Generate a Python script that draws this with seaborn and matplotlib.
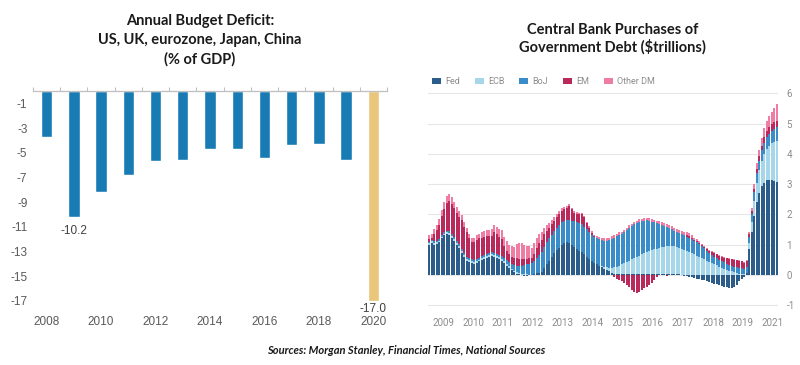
import matplotlib

matplotlib.use("Agg")
import matplotlib.pyplot as plt
import numpy as np
import pandas as pd
import seaborn as sns
from matplotlib.patches import Patch

# Left panel: annual budget deficit (% of GDP)
deficit_years = ["2008", "2009", "2010", "2011", "2012", "2013", "2014",
                 "2015", "2016", "2017", "2018", "2019", "2020"]
deficit_values = [-3.7, -10.2, -8.2, -6.8, -5.7, -5.6, -4.7,
                  -4.7, -5.4, -4.4, -4.3, -5.6, -17.0]
deficit_yticks = [-1, -3, -5, -7, -9, -11, -13, -15, -17]
labelled_years = ["2009", "2020"]

# Right panel: central bank purchases of government debt, monthly ($tn)
cb_year_labels = ["2009", "2010", "2011", "2012", "2013", "2014",
                  "2015", "2016", "2017", "2018", "2019", "2021"]
cb_yticks = [6, 5, 4, 3, 2, 1, 0, -1]
fed = [
    1.00, 1.05, 1.00, 1.02, 1.07, 1.20, 1.30, 1.34, 1.32, 1.22, 1.12, 1.00,
    0.88, 0.72, 0.58, 0.47, 0.42, 0.38, 0.37, 0.40, 0.44, 0.48, 0.53, 0.57,
    0.60, 0.62, 0.60, 0.57, 0.52, 0.46, 0.38, 0.30, 0.22, 0.15, 0.09, 0.04,
    0.01, -0.02, -0.03, -0.03, -0.02, 0.00, 0.02, 0.05, 0.06, 0.10, 0.22, 0.34,
    0.47, 0.60, 0.72, 0.82, 0.90, 0.97, 1.04, 1.07, 1.05, 1.00, 0.92, 0.85,
    0.80, 0.74, 0.68, 0.60, 0.52, 0.45, 0.40, 0.34, 0.29, 0.25, 0.20, 0.15,
    0.11, 0.07, 0.04, 0.02, 0.01, 0.01, 0.01, 0.01, 0.01, 0.01, 0.01, 0.01,
    0.01, 0.01, 0.01, 0.01, 0.01, 0.01, 0.01, 0.01, 0.01, 0.01, 0.01, 0.01,
    0.01, 0.01, 0.01, 0.01, 0.01, -0.01, -0.03, -0.05, -0.07, -0.09, -0.11, -0.13,
    -0.15, -0.17, -0.19, -0.21, -0.23, -0.26, -0.29, -0.31, -0.34, -0.36, -0.39, -0.41,
    -0.43, -0.45, -0.42, -0.33, -0.22, -0.13, -0.06, 0.05, 0.85, 1.40, 1.95, 2.40,
    2.70, 2.92, 3.05, 3.12, 3.14, 3.13, 3.10, 3.06,
]
ecb = [
    0.04, 0.05, 0.05, 0.05, 0.06, 0.06, 0.06, 0.06, 0.06, 0.06, 0.06, 0.06,
    0.06, 0.06, 0.06, 0.06, 0.06, 0.06, 0.06, 0.06, 0.06, 0.06, 0.06, 0.06,
    0.06, 0.06, 0.06, 0.06, 0.06, 0.06, 0.06, 0.06, 0.06, 0.05, 0.05, 0.04,
    0.04, 0.03, 0.02, 0.01, 0.00, 0.00, 0.00, 0.00, 0.00, 0.00, 0.00, 0.00,
    0.00, 0.00, 0.00, 0.00, 0.00, 0.00, 0.00, 0.00, 0.00, 0.00, 0.00, 0.00,
    0.00, 0.00, 0.00, 0.00, 0.00, 0.00, 0.00, 0.00, 0.00, 0.03, 0.06, 0.09,
    0.12, 0.16, 0.20, 0.24, 0.28, 0.33, 0.37, 0.41, 0.45, 0.50, 0.54, 0.58,
    0.62, 0.66, 0.70, 0.74, 0.77, 0.80, 0.83, 0.85, 0.88, 0.90, 0.92, 0.93,
    0.94, 0.95, 0.94, 0.92, 0.89, 0.86, 0.83, 0.79, 0.75, 0.71, 0.67, 0.63,
    0.59, 0.55, 0.51, 0.47, 0.43, 0.39, 0.35, 0.31, 0.27, 0.23, 0.20, 0.17,
    0.14, 0.11, 0.08, 0.06, 0.04, 0.02, 0.01, 0.02, 0.20, 0.35, 0.50, 0.65,
    0.75, 0.85, 0.95, 1.05, 1.13, 1.22, 1.30, 1.37,
]
boj = [
    0.05, 0.05, 0.05, 0.06, 0.06, 0.06, 0.06, 0.06, 0.06, 0.06, 0.07, 0.07,
    0.07, 0.07, 0.07, 0.07, 0.07, 0.07, 0.07, 0.07, 0.07, 0.07, 0.07, 0.07,
    0.07, 0.07, 0.07, 0.07, 0.08, 0.09, 0.10, 0.12, 0.14, 0.16, 0.18, 0.21,
    0.24, 0.27, 0.30, 0.33, 0.36, 0.39, 0.43, 0.50, 0.58, 0.66, 0.70, 0.74,
    0.73, 0.73, 0.73, 0.73, 0.75, 0.76, 0.73, 0.73, 0.75, 0.79, 0.86, 0.89,
    0.90, 0.93, 0.90, 0.90, 0.89, 0.88, 0.85, 0.86, 0.88, 0.86, 0.87, 0.88,
    0.91, 0.96, 0.99, 1.01, 1.02, 1.00, 1.02, 1.05, 1.08, 1.09, 1.12, 1.12,
    1.12, 1.11, 1.08, 1.05, 1.01, 0.95, 0.89, 0.85, 0.79, 0.74, 0.69, 0.64,
    0.59, 0.54, 0.50, 0.49, 0.48, 0.48, 0.47, 0.47, 0.47, 0.46, 0.45, 0.44,
    0.42, 0.39, 0.36, 0.31, 0.28, 0.26, 0.24, 0.24, 0.23, 0.22, 0.21, 0.20,
    0.19, 0.19, 0.18, 0.19, 0.19, 0.20, 0.19, 0.20, 0.20, 0.25, 0.28, 0.30,
    0.32, 0.34, 0.36, 0.38, 0.40, 0.42, 0.43, 0.44,
]
em = [
    0.09, 0.07, 0.25, 0.35, 0.47, 0.62, 0.75, 0.90, 1.00, 1.00, 0.95, 0.92,
    0.90, 0.95, 0.88, 0.80, 0.66, 0.56, 0.58, 0.62, 0.63, 0.62, 0.60, 0.58,
    0.55, 0.54, 0.70, 0.64, 0.60, 0.58, 0.40, 0.30, 0.25, 0.24, 0.22, 0.25,
    0.24, 0.22, 0.20, 0.19, 0.18, 0.16, 0.25, 0.32, 0.40, 0.40, 0.42, 0.38,
    0.35, 0.34, 0.34, 0.35, 0.36, 0.39, 0.40, 0.41, 0.47, 0.37, 0.27, 0.27,
    0.30, 0.33, 0.32, 0.20, 0.13, 0.06, 0.02, 0.01, 0.00, 0.00, 0.00, 0.00,
    0.00, 0.00, -0.08, -0.14, -0.18, -0.22, -0.28, -0.34, -0.42, -0.50, -0.56, -0.62,
    -0.58, -0.50, -0.45, -0.40, -0.35, -0.28, -0.18, -0.08, -0.02, 0.00, 0.00, -0.03,
    0.00, 0.00, 0.00, 0.00, 0.00, 0.02, 0.03, 0.05, 0.05, 0.05, 0.04, 0.04,
    0.04, 0.05, 0.05, 0.07, 0.08, 0.10, 0.13, 0.13, 0.13, 0.15, 0.15, 0.17,
    0.19, 0.21, 0.24, 0.23, 0.24, 0.22, 0.20, 0.20, 0.10, 0.10, 0.12, 0.14,
    0.15, 0.16, 0.18, 0.19, 0.20, 0.21, 0.22, 0.22,
]
other_dm = [
    0.12, 0.12, 0.15, 0.17, 0.19, 0.21, 0.23, 0.24, 0.24, 0.24, 0.22, 0.20,
    0.19, 0.18, 0.16, 0.15, 0.14, 0.13, 0.14, 0.15, 0.16, 0.17, 0.18, 0.19,
    0.20, 0.21, 0.23, 0.24, 0.26, 0.29, 0.31, 0.32, 0.33, 0.35, 0.38, 0.48,
    0.53, 0.54, 0.46, 0.43, 0.40, 0.35, 0.35, 0.33, 0.31, 0.26, 0.22, 0.18,
    0.15, 0.13, 0.12, 0.10, 0.09, 0.08, 0.07, 0.06, 0.06, 0.06, 0.05, 0.05,
    0.05, 0.05, 0.05, 0.05, 0.06, 0.06, 0.06, 0.07, 0.08, 0.08, 0.08, 0.08,
    0.08, 0.09, 0.09, 0.09, 0.09, 0.09, 0.09, 0.09, 0.09, 0.09, 0.08, 0.08,
    0.08, 0.08, 0.08, 0.08, 0.08, 0.08, 0.08, 0.08, 0.09, 0.09, 0.09, 0.10,
    0.11, 0.12, 0.11, 0.10, 0.10, 0.10, 0.10, 0.10, 0.10, 0.08, 0.07, 0.06,
    0.05, 0.04, 0.03, 0.03, 0.03, 0.02, 0.02, 0.02, 0.02, 0.02, 0.02, 0.02,
    0.02, 0.02, 0.02, 0.02, 0.02, 0.02, 0.02, 0.03, 0.05, 0.10, 0.15, 0.20,
    0.22, 0.25, 0.30, 0.33, 0.37, 0.41, 0.45, 0.55,
]
series_names = ["Fed", "ECB", "BoJ", "EM", "Other DM"]
series_colors = ["#2b5c8a", "#a6d6ea", "#3a8dc8", "#b72a5b", "#ef7ca2"]

sns.set_theme(style="white")
plt.rcParams["font.family"] = ["Lato", "DejaVu Sans"]

fig = plt.figure(figsize=(8, 3.65), dpi=100)

# ---- left: budget deficit bars
ax1 = fig.add_axes([33 / 800, 55 / 365, 354 / 800, 219 / 365])
df = pd.DataFrame({"year": deficit_years, "deficit": deficit_values})
bar_colors = ["#197bb3"] * (len(deficit_years) - 1) + ["#e9c67b"]
sns.barplot(data=df, x="year", y="deficit", hue="year", palette=bar_colors,
            legend=False, width=0.42, saturation=1, ax=ax1)
ax1.set_ylim(-17.73, 0)
ax1.set_xlim(-0.5, len(deficit_years) - 0.5)
ax1.set_xlabel("")
ax1.set_ylabel("")
ax1.set_yticks(deficit_yticks)
ax1.set_yticklabels([str(v) for v in deficit_yticks],
                    family="Liberation Sans", fontsize=8.5, color="#595959")
ax1.set_xticks(range(0, len(deficit_years), 2))
ax1.set_xticklabels(deficit_years[::2], family="Liberation Sans",
                    fontsize=8.5, color="#595959")
ax1.set_xticks(np.arange(-0.5, len(deficit_years)), minor=True)
ax1.tick_params(axis="both", which="major", length=0, pad=4)
ax1.tick_params(axis="x", which="minor", top=True, bottom=False,
                direction="out", length=3, color="#bfbfbf", width=0.8)
for side in ["left", "right", "bottom"]:
    ax1.spines[side].set_visible(False)
ax1.spines["top"].set_color("#bfbfbf")
ax1.spines["top"].set_linewidth(0.9)

for yr in labelled_years:
    k = deficit_years.index(yr)
    v = deficit_values[k]
    ax1.annotate(f"{v:.1f}", xy=(k, v), xytext=(0, -10 if v > -15 else -5.5),
                 textcoords="offset points", ha="center", va="center",
                 family="Liberation Sans", fontsize=8.5, color="#404040")

fig.text(0.25, 0.962, "Annual Budget Deficit:\nUS, UK, eurozone, Japan, China\n(% of GDP)",
         ha="center", va="top", fontsize=10.5, fontweight="bold",
         color="#1a1a1a", linespacing=1.45)

# ---- right: central bank purchases, stacked monthly bars
ax2 = fig.add_axes([428 / 800, 58.5 / 365, 350 / 800, 214.7 / 365])
n = len(fed)
x = np.arange(n)
pos_base = np.zeros(n)
neg_base = np.zeros(n)
for vals, color in zip([fed, ecb, boj, em, other_dm], series_colors):
    v = np.array(vals)
    pos = np.clip(v, 0, None)
    neg = np.clip(v, None, 0)
    ax2.bar(x, pos, bottom=pos_base, width=0.82, color=color, linewidth=0, zorder=2)
    ax2.bar(x, neg, bottom=neg_base, width=0.82, color=color, linewidth=0, zorder=2)
    pos_base += pos
    neg_base += neg

ax2.set_xlim(-0.5, n - 0.5)
ax2.set_ylim(-1.05, 6.05)
ax2.set_yticks(cb_yticks)
ax2.grid(axis="y", color="#e6e6e6", linewidth=0.8, zorder=0)
ax2.yaxis.tick_right()
ax2.set_yticklabels([str(v) for v in cb_yticks], family="Roboto",
                    fontsize=7, color="#8c8c8c")
ax2.set_xticks([5.5 + 12 * k for k in range(len(cb_year_labels))])
ax2.set_xticklabels(cb_year_labels, family="Roboto", fontsize=7, color="#8c8c8c")
ax2.tick_params(axis="y", length=0, pad=6)
ax2.tick_params(axis="x", length=3, color="#dcdcdc", pad=5)
for side in ["left", "right", "top", "bottom"]:
    ax2.spines[side].set_visible(False)

handles = [Patch(facecolor=c, edgecolor="none") for c in series_colors]
ax2.legend(handles, series_names, loc="lower left", bbox_to_anchor=(-0.012, 0.99),
           ncol=5, frameon=False, handlelength=1.0, handleheight=0.6,
           handletextpad=0.5, columnspacing=1.6,
           prop={"family": "Roboto", "size": 6.5}, labelcolor="#8c8c8c")

fig.text(0.766, 0.937, "Central Bank Purchases of\nGovernment Debt ($trillions)",
         ha="center", va="top", fontsize=10.5, fontweight="bold",
         color="#1a1a1a", linespacing=1.2)

fig.text(0.508, 0.04, "Sources: Morgan Stanley, Financial Times, National Sources",
         ha="center", va="center", fontsize=8, fontweight="bold",
         fontstyle="italic", color="#1a1a1a")

fig.savefig("out.png", dpi=100)
plt.close(fig)
